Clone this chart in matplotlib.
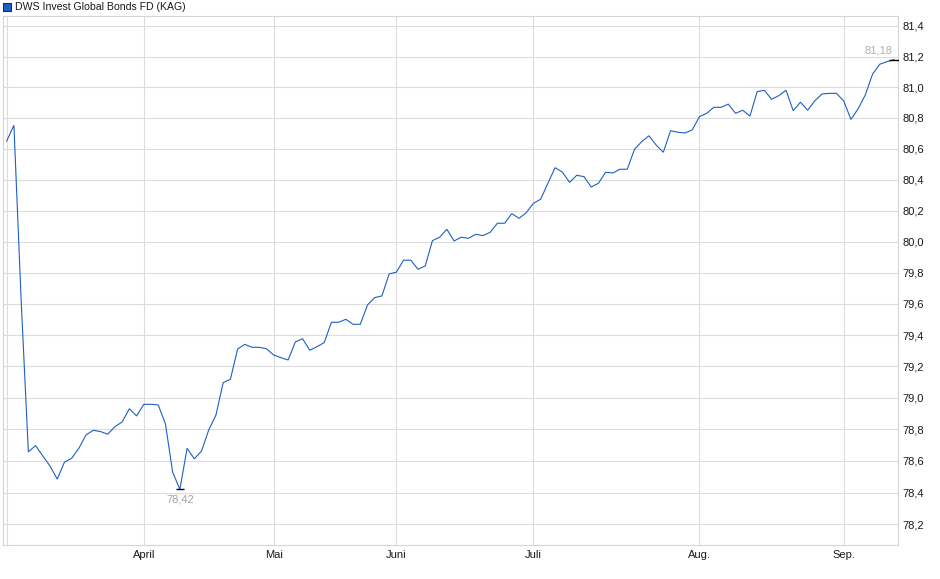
import matplotlib
matplotlib.use("Agg")
import matplotlib.pyplot as plt
from matplotlib.ticker import FixedLocator, FuncFormatter, NullLocator
from matplotlib.patches import Rectangle

plt.rcParams['font.family'] = ['Liberation Sans', 'DejaVu Sans']

title = "DWS Invest Global Bonds FD (KAG)"

values = [
    80.650, 80.752, 79.625, 78.657, 78.697, 78.632, 78.568, 78.485, 78.592, 78.617,
    78.680, 78.765, 78.794, 78.786, 78.769, 78.817, 78.847, 78.931, 78.885, 78.959,
    78.959, 78.955, 78.834, 78.529, 78.420, 78.680, 78.613, 78.663, 78.796, 78.891,
    79.097, 79.118, 79.311, 79.341, 79.322, 79.322, 79.313, 79.273, 79.256, 79.241,
    79.356, 79.377, 79.303, 79.326, 79.352, 79.482, 79.482, 79.501, 79.469, 79.469,
    79.593, 79.640, 79.651, 79.792, 79.803, 79.880, 79.880, 79.822, 79.843, 80.006,
    80.028, 80.079, 80.004, 80.028, 80.021, 80.047, 80.038, 80.060, 80.118, 80.118,
    80.180, 80.150, 80.186, 80.247, 80.273, 80.376, 80.477, 80.449, 80.382, 80.428,
    80.419, 80.352, 80.376, 80.447, 80.443, 80.467, 80.467, 80.596, 80.646, 80.684,
    80.624, 80.577, 80.717, 80.707, 80.702, 80.722, 80.808, 80.830, 80.869, 80.869,
    80.890, 80.830, 80.850, 80.812, 80.971, 80.980, 80.921, 80.945, 80.980, 80.847,
    80.902, 80.850, 80.912, 80.956, 80.960, 80.960, 80.910, 80.790, 80.860, 80.951,
    81.086, 81.150, 81.167, 81.180,
]
days = list(range(len(values)))

month_days = [0, 19, 37, 54, 73, 96, 116]
month_labels = ["", "April", "Mai", "Juni", "Juli", "Aug.", "Sep."]

y_ticks = [78.2, 78.4, 78.6, 78.8, 79.0, 79.2, 79.4, 79.6, 79.8, 80.0,
           80.2, 80.4, 80.6, 80.8, 81.0, 81.2, 81.4]

min_label = "78,42"
max_label = "81,18"

W, H = 940, 579
fig = plt.figure(figsize=(W / 100, H / 100), dpi=100)
ax = fig.add_axes([2.7 / W, (H - 545) / H, (898.3 - 2.7) / W, (545 - 16) / H])

grid_c = '#dcdcdc'
ax.set_yscale('log')
ax.set_ylim(78.070, 81.4655)
ax.set_xlim(-0.554, 123.56)

ax.plot(days, values, color='#1f5fc4', lw=0.8, solid_joinstyle='miter', zorder=3)

# min / max markers
imin = values.index(min(values))
imax = values.index(max(values))
ax.plot([days[imin]], [values[imin]], marker='_', ms=6, mew=1.0, color='black', zorder=4)
ax.plot([days[imax]], [values[imax]], marker='_', ms=6.5, mew=1.0, color='black', zorder=4)
ax.annotate(min_label, (days[imin], values[imin]), xytext=(0, -7.6), textcoords='offset points',
            ha='center', va='center', fontsize=8, color='#a6a29e')
ax.annotate(max_label, (days[imax], values[imax]), xytext=(-1.6, 6.3), textcoords='offset points',
            ha='right', va='center', fontsize=8, color='#b8aea4')

# axes styling
ax.yaxis.set_major_locator(FixedLocator(y_ticks))
ax.yaxis.set_minor_locator(NullLocator())
ax.yaxis.set_major_formatter(FuncFormatter(lambda v, p: f"{v:.1f}".replace('.', ',')))
ax.yaxis.tick_right()
ax.tick_params(axis='y', length=0, pad=3, labelsize=8, labelcolor='#1a1a1a')

ax.xaxis.set_major_locator(FixedLocator(month_days))
ax.set_xticklabels(month_labels)
ax.tick_params(axis='x', length=0, pad=3.5, labelsize=8, labelcolor='#1a1a1a')

ax.grid(True, color=grid_c, lw=0.8, zorder=0)
for s in ax.spines.values():
    s.set_color('#d4d4d4')
    s.set_linewidth(0.8)

# legend-like header
fig.patches.append(Rectangle((3 / W, (H - 10.5) / H), 7.5 / W, 7.5 / H, transform=fig.transFigure,
                             facecolor='#1f5fc4', edgecolor='#10306a', lw=0.8))
fig.text(15 / W, (H - 6.5) / H, title, fontsize=7.6, color='#1a1a1a', ha='left', va='center')

fig.savefig('out.png', dpi=100)
